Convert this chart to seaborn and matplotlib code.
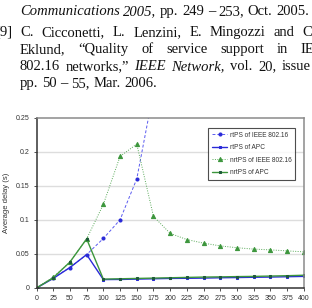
import matplotlib
matplotlib.use("Agg")
import matplotlib.pyplot as plt
import seaborn as sns

# data
load = [0, 25, 50, 75, 100, 125, 150, 175, 200, 225, 250, 275, 300, 325, 350, 375, 400]
rtps_ieee = [0, 0.015, 0.030, 0.049, 0.0726, 0.100, 0.160, 0.288]
rtps_apc = [0, 0.014, 0.030, 0.049, 0.0123, 0.0125, 0.013, 0.0135, 0.014, 0.0142,
            0.0145, 0.015, 0.0153, 0.0157, 0.016, 0.0165, 0.017]
nrtps_ieee = [0, 0.016, 0.038, 0.072, 0.1226, 0.193, 0.211, 0.105, 0.080, 0.071,
              0.0657, 0.0617, 0.059, 0.057, 0.0559, 0.0544, 0.053]
nrtps_apc = [0, 0.015, 0.038, 0.072, 0.013, 0.0135, 0.014, 0.0145, 0.015, 0.0155,
             0.016, 0.0163, 0.0167, 0.017, 0.0175, 0.018, 0.0187]
labels = ["rtPS of IEEE 802.16", "rtPS of APC", "nrtPS of IEEE 802.16", "nrtPS of APC"]
yticks = [0, 0.05, 0.1, 0.15, 0.2, 0.25]
ytick_labels = ["0", "0.05", "0.1", "0.15", "0.2", "0.25"]

sns.set_theme(style="white")
plt.rcParams['font.family'] = ['Liberation Sans', 'DejaVu Sans']

fig = plt.figure(figsize=(3.12, 3.08), dpi=100)
ax = fig.add_axes([0.117, 0.065, 0.857, 0.5535])

blue = "#2a2ad8"
blue_l = "#5a5af0"
green = "#3c963c"
green_l = "#5aaa5a"

sns.lineplot(x=load[:len(rtps_ieee)], y=rtps_ieee, ax=ax, color=blue_l, lw=0.7,
             linestyle=(0, (3, 2)), marker="o", ms=2.2, mec=blue, mfc=blue, label=labels[0])
sns.lineplot(x=load, y=rtps_apc, ax=ax, color=blue, lw=1.0,
             marker="s", ms=2.0, mec=blue, mfc=blue, label=labels[1])
sns.lineplot(x=load, y=nrtps_ieee, ax=ax, color=green_l, lw=0.7,
             linestyle=(0, (1, 1.5)), marker="^", ms=3.0, mec=green, mfc=green, label=labels[2])
sns.lineplot(x=load, y=nrtps_apc, ax=ax, color=green, lw=1.0,
             marker="s", ms=2.0, mec="#1e5a3a", mfc="#1e5a3a", label=labels[3])

ax.set_xlim(0, 400)
ax.set_ylim(0, 0.25)
ax.set_xticks(load)
ax.set_xticklabels([str(v) for v in load])
ax.set_yticks(yticks)
ax.set_yticklabels(ytick_labels)
ax.tick_params(axis="both", labelsize=5, colors="#333333", length=2, width=0.6,
               direction="out", pad=3)
ax.tick_params(left=True, bottom=True)
ax.set_xlabel("")
ax.set_ylabel("Average delay (s)", fontsize=5.5, color="#333333", labelpad=4)

for y in yticks[1:-1]:
    ax.axhline(y, color="#dddddd", lw=1.0, zorder=0)
ax.spines["left"].set_color("#333333")
ax.spines["bottom"].set_color("#333333")
ax.spines["top"].set_color("#8a8a8a")
ax.spines["right"].set_color("#8a8a8a")
for s in ax.spines.values():
    s.set_linewidth(1.1)

leg = ax.legend(loc="upper right", bbox_to_anchor=(0.968, 0.94), fontsize=4.7,
                frameon=True, fancybox=False, handlelength=2.3, borderpad=0.6,
                labelspacing=0.85, handletextpad=0.4, borderaxespad=0)
leg.get_frame().set_edgecolor("#222222")
leg.get_frame().set_linewidth(0.8)
for t in leg.get_texts():
    t.set_color("#333333")

# surrounding text of the page (serif, justified)
serif = ['Liberation Serif', 'DejaVu Serif']
fs = 10.5
renderer = fig.canvas.get_renderer()
W, H = 312, 308
natural_space = 0.25 * fs * 100 / 72


def put_line(words, y, x0, x1=None):
    texts = []
    for w, it in words:
        t = fig.text(0, 1 - y / H, w, fontsize=fs, family=serif,
                     style="italic" if it else "normal", color="#111111",
                     va="baseline", ha="left")
        texts.append(t)
    widths = [t.get_window_extent(renderer).width for t in texts]
    space = natural_space
    if x1 is not None and len(texts) > 1:
        space = (x1 - x0 - sum(widths)) / (len(texts) - 1)
    x = x0
    for t, w in zip(texts, widths):
        t.set_x(x / W)
        x += w + space


put_line([("Communications", True), ("2005,", True), ("pp.", False), ("249", False),
          ("–", False), ("253,", False), ("Oct.", False), ("2005.", False)], 15, 20, 309)
fig.text(13 / W, 1 - 36 / H, "[9]", fontsize=fs, family=serif, color="#111111",
         va="baseline", ha="right")
put_line([("C.", False), ("Cicconetti,", False), ("L.", False), ("Lenzini,", False),
          ("E.", False), ("Mingozzi", False), ("and", False), ("C.", False)], 36, 20, 316)
put_line([("Eklund,", False), ("“Quality", False), ("of", False), ("service", False),
          ("support", False), ("in", False), ("IEEE", False)], 53, 20, 332)
put_line([("802.16", False), ("networks,”", False), ("IEEE", True), ("Network,", True),
          ("vol.", False), ("20,", False), ("issue", False), ("2,", False)], 70, 20, 327)
put_line([("pp.", False), ("50", False), ("–", False), ("55,", False), ("Mar.", False),
          ("2006.", False)], 87, 20)

fig.savefig("out.png", dpi=100)
